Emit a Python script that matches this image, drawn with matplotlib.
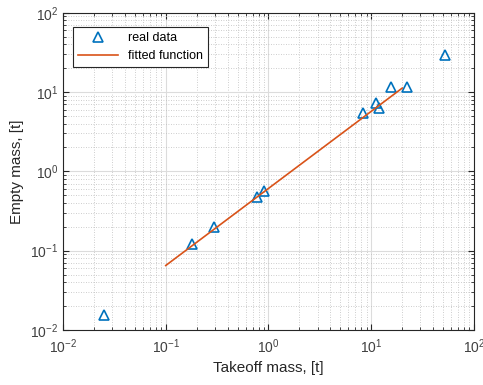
import matplotlib
matplotlib.use('Agg')
from matplotlib import pyplot as plt

plt.rcParams['font.family'] = ['Liberation Sans', 'DejaVu Sans']

# real data (takeoff mass vs empty mass, tonnes)
takeoff = [0.025, 0.181, 0.297, 0.766, 0.90, 8.34, 11.0, 11.9, 15.5, 22.3, 52.4]
empty = [0.0156, 0.121, 0.198, 0.473, 0.573, 5.41, 7.35, 6.25, 11.7, 11.7, 29.3]

# fitted function end points
fit_x = [0.1, 20.0]
fit_y = [0.065, 11.2]

fig = plt.figure(figsize=(4.83, 3.85), dpi=100)
ax = fig.add_axes([0.1304, 0.1429, 0.8510, 0.8241])

ax.loglog(takeoff, empty, linestyle='none', marker='^', markersize=6.5,
          markerfacecolor='none', markeredgecolor='#0072BD', markeredgewidth=1.2,
          label='real data')
ax.loglog(fit_x, fit_y, color='#D95319', linewidth=1.2, label='fitted function')

ax.set_xlim(1e-2, 1e2)
ax.set_ylim(1e-2, 1e2)

ax.grid(True, which='major', color='#dcdcdc', linewidth=0.8)
ax.grid(True, which='minor', color='#bdbdbd', linestyle=(0, (1, 2)), linewidth=0.6)
ax.set_axisbelow(True)

ax.tick_params(which='both', direction='in', top=True, right=True, colors='#262626',
               labelcolor='#404040', labelsize=10)
ax.tick_params(which='major', length=4)
ax.tick_params(which='minor', length=2)
ax.tick_params(axis='x', pad=5)
for s in ax.spines.values():
    s.set_color('#262626')
    s.set_linewidth(0.8)

ax.set_xlabel('Takeoff mass, [t]', fontsize=11, color='#262626')
ax.set_ylabel('Empty mass, [t]', fontsize=11, color='#262626')

leg = ax.legend(loc='upper left', fontsize=9, fancybox=False, framealpha=1,
                edgecolor='#262626', bbox_to_anchor=(0.01, 0.975),
                handlelength=3.2, borderpad=0.4)
leg.get_frame().set_linewidth(0.8)

plt.savefig('out.png', dpi=100)
